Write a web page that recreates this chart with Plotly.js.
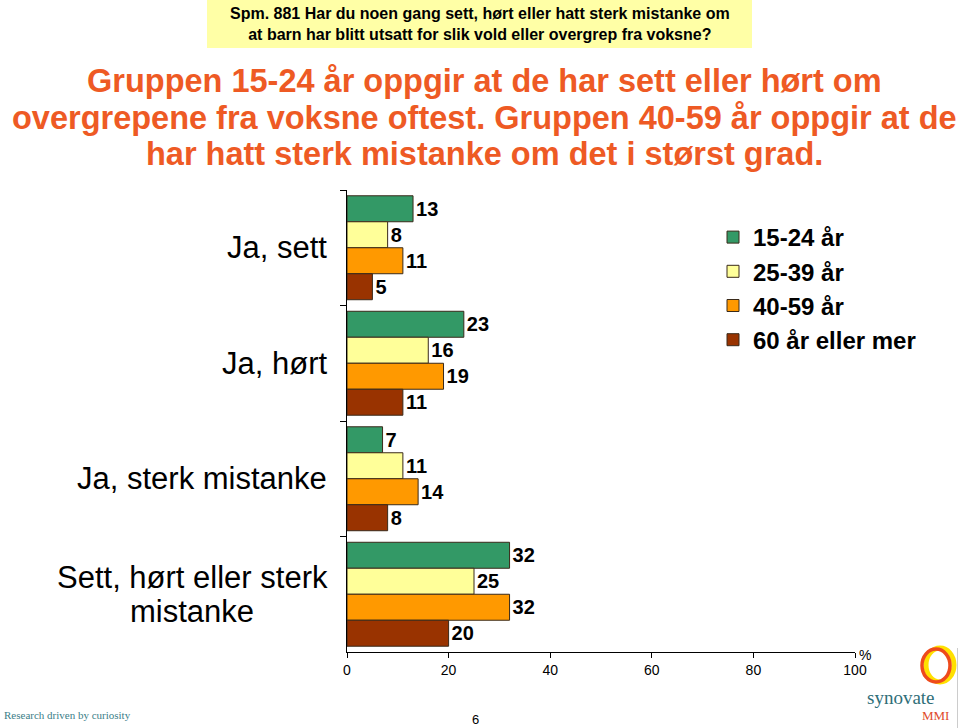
<!DOCTYPE html>
<html>
<head>
<meta charset="utf-8">
<script src="https://cdn.plot.ly/plotly-3.0.1.min.js"></script>
<style>html,body{margin:0;padding:0;background:#fff;}#chart{width:960px;height:728px;}</style>
</head>
<body>
<div id="chart"></div>
<script>
const categories = ["Ja, sett", "Ja, hørt", "Ja, sterk mistanke", "Sett, hørt eller sterk mistanke"];
const categoryLabelLines = [["Ja, sett"], ["Ja, hørt"], ["Ja, sterk mistanke"], ["Sett, hørt eller sterk", "mistanke"]];
const seriesNames = ["15-24 år", "25-39 år", "40-59 år", "60 år eller mer"];
const values1524 = [13, 23, 7, 32];
const values2539 = [8, 16, 11, 25];
const values4059 = [11, 19, 14, 32];
const values60 = [5, 11, 8, 20];
const xTickVals = [0, 20, 40, 60, 80, 100];
const seriesColors = ["#339966", "#FFFF99", "#FF9900", "#993300"];
const subtitleLines = [
  "Gruppen 15-24 år oppgir at de har sett eller hørt om",
  "overgrepene fra voksne oftest. Gruppen 40-59 år oppgir at de",
  "har hatt sterk mistanke om det i størst grad."
];

const allValues = [values1524, values2539, values4059, values60];
const ARIAL = "Arial, 'Liberation Sans', sans-serif";
const SERIF = "'Liberation Serif', 'DejaVu Serif', serif";

const L = 347, T = 190, W = 508, H = 462;
const px = x => (x - L) / W;
const py = y => (T + H - y) / H;

const traces = allValues.map((vals, i) => ({
  type: "bar",
  orientation: "h",
  name: seriesNames[i],
  y: categories,
  x: vals,
  text: vals.map(String),
  textposition: "outside",
  constraintext: "none",
  cliponaxis: false,
  textfont: {family: ARIAL, size: 20, color: "#000", weight: "bold"},
  marker: {color: seriesColors[i], line: {color: "#3a2a1a", width: 1}},
  hoverinfo: "skip"
}));

const annotations = [];
categories.forEach((c, i) => {
  const lines = categoryLabelLines[i];
  if (lines.length === 1) {
    annotations.push({
      xref: "paper", yref: "y", x: px(329), y: c, xanchor: "right", yanchor: "middle",
      text: lines[0], showarrow: false,
      font: {family: ARIAL, size: 31, color: "#000"}
    });
  } else {
    lines.forEach((ln, k) => {
      annotations.push({
        xref: "paper", yref: "y", x: px(192), y: c, xanchor: "center", yanchor: "middle",
        yshift: k === 0 ? 17 : -17,
        text: ln, showarrow: false,
        font: {family: ARIAL, size: 31, color: "#000"}
      });
    });
  }
});
annotations.push({
  xref: "paper", yref: "paper", x: px(480), y: py(24), xanchor: "center", yanchor: "middle",
  text: "Spm. 881 Har du noen gang sett, hørt eller hatt sterk mistanke om<br>at barn har blitt utsatt for slik vold eller overgrep fra voksne?",
  showarrow: false, align: "center",
  font: {family: ARIAL, size: 16, color: "#000", weight: "bold"}
});
const subY = [81, 118, 154];
subtitleLines.forEach((ln, k) => {
  annotations.push({
    xref: "paper", yref: "paper", x: px(484), y: py(subY[k]), xanchor: "center", yanchor: "middle",
    text: ln, showarrow: false,
    font: {family: ARIAL, size: 32.5, color: "#EE5A24", weight: "bold"}
  });
});
annotations.push({
  xref: "paper", yref: "paper", x: px(857), y: py(655), xanchor: "left", yanchor: "middle",
  text: "%", showarrow: false,
  font: {family: ARIAL, size: 14, color: "#000"}
});
annotations.push({
  xref: "paper", yref: "paper", x: px(475), y: py(719), xanchor: "center", yanchor: "middle",
  text: "6", showarrow: false,
  font: {family: ARIAL, size: 13, color: "#000"}
});
annotations.push({
  xref: "paper", yref: "paper", x: px(2), y: py(715), xanchor: "left", yanchor: "middle",
  text: "Research driven by curiosity", showarrow: false,
  font: {family: SERIF, size: 11, color: "#3B7E88"}
});
annotations.push({
  xref: "paper", yref: "paper", x: px(901), y: py(697), xanchor: "center", yanchor: "middle",
  text: "synovate", showarrow: false,
  font: {family: SERIF, size: 19, color: "#2F6E78"}
});
annotations.push({
  xref: "paper", yref: "paper", x: px(935), y: py(715), xanchor: "center", yanchor: "middle",
  text: "MMI", showarrow: false,
  font: {family: SERIF, size: 13, color: "#E04A2A"}
});

const shapes = [
  {type: "rect", xref: "paper", yref: "paper", x0: px(207), x1: px(752), y0: py(48), y1: py(0),
   fillcolor: "#FFFFA6", line: {width: 0}, layer: "below"},
  {type: "circle", xref: "paper", yref: "paper", x0: px(926), x1: px(954), y0: py(682), y1: py(648),
   fillcolor: "rgba(0,0,0,0)", line: {color: "#FFE000", width: 5}},
  {type: "circle", xref: "paper", yref: "paper", x0: px(922), x1: px(950), y0: py(682), y1: py(649),
   fillcolor: "rgba(0,0,0,0)", line: {color: "#EE4A1C", width: 3.5}},
  {type: "line", xref: "paper", yref: "paper", x0: px(957.5), x1: px(957.5), y0: py(648), y1: py(728),
   line: {color: "#cccccc", width: 1}}
];

const layout = {
  width: 960, height: 728,
  margin: {l: L, r: 960 - L - W, t: T, b: 728 - T - H, pad: 0},
  paper_bgcolor: "#fff", plot_bgcolor: "#fff",
  barmode: "group", bargap: 0.1, bargroupgap: 0,
  showlegend: true,
  legend: {
    x: px(713), y: py(215), xanchor: "left", yanchor: "top",
    font: {family: ARIAL, size: 24, color: "#000", weight: "bold"},
    bgcolor: "rgba(0,0,0,0)", traceorder: "normal"
  },
  xaxis: {
    range: [0, 100], tickvals: xTickVals, ticktext: xTickVals.map(String),
    showgrid: false, zeroline: false, showline: true, linecolor: "#000", linewidth: 1,
    ticks: "outside", ticklen: 5, tickcolor: "#000",
    tickfont: {family: ARIAL, size: 14, color: "#000"},
    fixedrange: true
  },
  yaxis: {
    type: "category", categoryorder: "array", categoryarray: categories,
    range: [3.5, -0.5],
    showgrid: false, zeroline: false, showline: true, linecolor: "#000", linewidth: 1,
    ticks: "outside", tickson: "boundaries", ticklen: 6, tickcolor: "#000",
    showticklabels: false, fixedrange: true
  },
  annotations: annotations,
  shapes: shapes,
  font: {family: ARIAL}
};

Plotly.newPlot("chart", traces, layout, {displayModeBar: false, staticPlot: true});
</script>
</body>
</html>
